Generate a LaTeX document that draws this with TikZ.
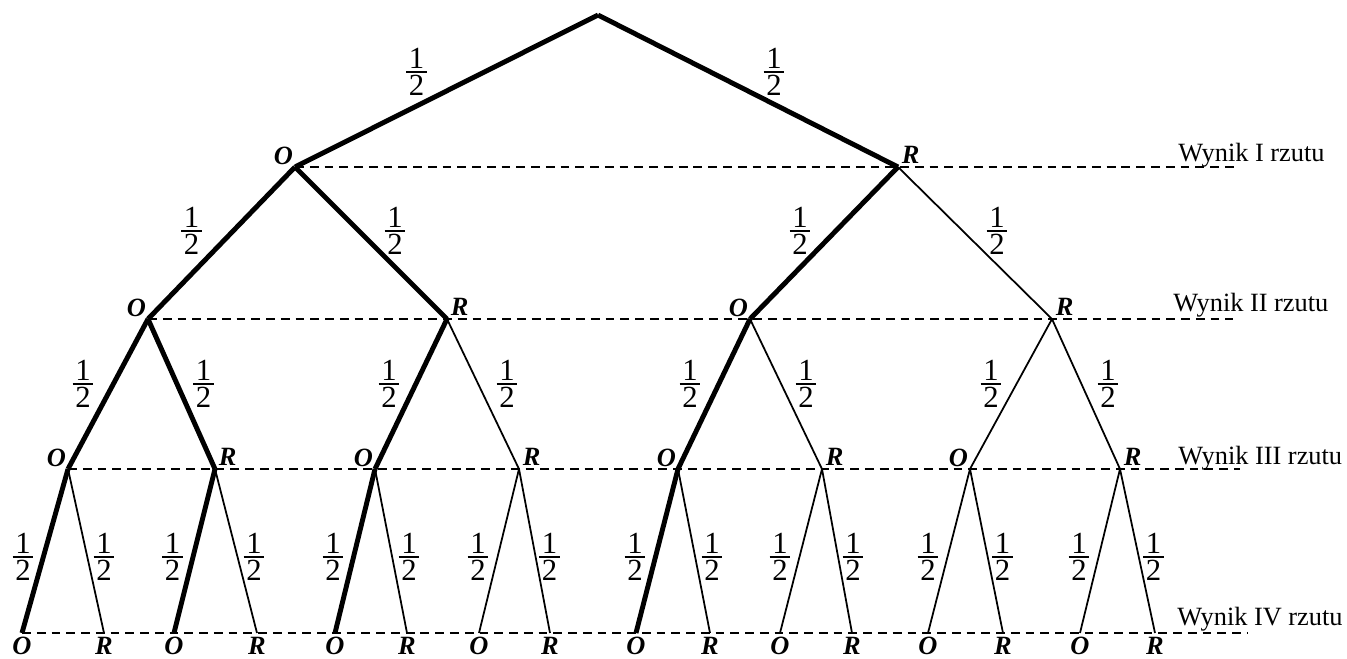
\documentclass[tikz,border=0pt]{standalone}
\usepackage{fontspec}
\setmainfont{Liberation Serif}
\newcommand{\half}{\fontsize{17.5}{21}\selectfont\vbox{\offinterlineskip\hbox{\kern1.5pt 1\kern1.5pt}\kern1.6pt\hrule height 0.9pt\kern1.6pt\hbox{\kern1.5pt 2\kern1.5pt}}}
\tikzset{
  thk/.style={line width=2.8pt},
  thn/.style={line width=1pt},
  lvl/.style={line width=0.7pt,dash pattern=on 5pt off 3.4pt},
  frac/.style={midway,inner sep=0pt},
  lblO/.style={anchor=south east,inner sep=1pt,font=\fontsize{15}{18}\selectfont\bfseries\itshape},
  lblR/.style={anchor=south west,inner sep=2pt,font=\fontsize{15}{18}\selectfont\bfseries\itshape},
  leaf/.style={anchor=north,inner sep=2pt,font=\fontsize{15}{18}\selectfont\bfseries\itshape},
  wynik/.style={anchor=base west,inner sep=0pt,font=\fontsize{15}{18}\selectfont}
}
\begin{document}
\begin{tikzpicture}[x=0.02cm,y=-0.02cm,line cap=butt,line join=miter]
  \useasboundingbox[fill=white] (0,0) rectangle (1347,659);
  % wezly drzewa
  \coordinate (s) at (598,15);
  \coordinate (o) at (295,167);   \coordinate (r) at (898,167);
  \coordinate (oo) at (148,319);  \coordinate (or) at (447,319);
  \coordinate (ro) at (750,319);  \coordinate (rr) at (1052,319);
  \foreach \n/\x in {ooo/68,oor/215,oro/375,orr/519,roo/678,ror/822,rro/970,rrr/1120}
    \coordinate (\n) at (\x,469);
  \foreach \n/\x in {oooo/22,ooor/104,ooro/174,oorr/257,oroo/335,oror/407,orro/479,orrr/550,
                     rooo/636,roor/710,roro/780,rorr/852,rroo/928,rror/1003,rrro/1080,rrrr/1155}
    \coordinate (\n) at (\x,633);
  % linie poziomow
  \coordinate (e1) at (1238,167);
  \coordinate (e2) at (1233,319);
  \coordinate (e3) at (1240,469);
  \coordinate (e4) at (1247,633);
  \draw[lvl] (o) -- (e1);
  \draw[lvl] (oo) -- (e2);
  \draw[lvl] (ooo) -- (e3);
  \draw[lvl] (oooo) -- (e4);
  \node[wynik] (w1) at (1178,161) {Wynik I rzutu};
  \node[wynik] (w2) at (1173,311) {Wynik II rzutu};
  \node[wynik] (w3) at (1178,464) {Wynik III rzutu};
  \node[wynik] (w4) at (1177,625) {Wynik IV rzutu};
  % galezie z prawdopodobienstwami
  \foreach \p/\c/\w/\dx/\dy in {s/o/thk/-30/-19, s/r/thk/26/-19,
      o/oo/thk/-30/-12, o/or/thk/24/-12, r/ro/thk/-24/-12, r/rr/thn/22/-12,
      oo/ooo/thk/-25/-10, oo/oor/thk/22/-10, or/oro/thk/-22/-10, or/orr/thn/24/-10,
      ro/roo/thk/-24/-10, ro/ror/thn/20/-10, rr/rro/thn/-20/-10, rr/rrr/thn/22/-10,
      ooo/oooo/thk/-22/6, ooo/ooor/thn/18/6, oor/ooro/thk/-22/6, oor/oorr/thn/18/6,
      oro/oroo/thk/-22/6, oro/oror/thn/18/6, orr/orro/thn/-21/6, orr/orrr/thn/15/6,
      roo/rooo/thk/-22/6, roo/roor/thn/18/6, ror/roro/thn/-21/6, ror/rorr/thn/16/6,
      rro/rroo/thn/-21/6, rro/rror/thn/16/6, rrr/rrro/thn/-21/6, rrr/rrrr/thn/16/6}
    \draw[\w] (\p) -- (\c) node[frac,shift={(\dx,\dy)}] (h\c) {\half};
  % oznaczenia O i R
  \foreach \n in {o,oo,ro,ooo,oro,roo,rro}
    \node[lblO] (t\n) at (\n) {O};
  \foreach \n in {r,or,rr,oor,orr,ror,rrr}
    \node[lblR] (t\n) at (\n) {R};
  \foreach \n/\t in {oooo/O,ooor/R,ooro/O,oorr/R,oroo/O,oror/R,orro/O,orrr/R,
                     rooo/O,roor/R,roro/O,rorr/R,rroo/O,rror/R,rrro/O,rrrr/R}
    \node[leaf] (t\n) at (\n) {\t};
\end{tikzpicture}
\end{document}
